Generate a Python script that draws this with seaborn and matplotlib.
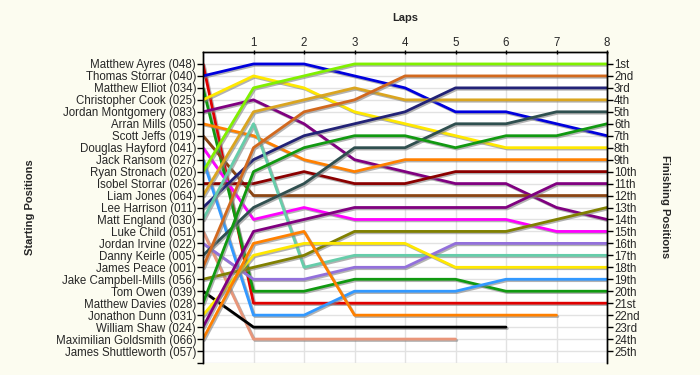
#!/usr/bin/env python3
"""Lap chart: starting positions vs finishing positions over 8 laps."""

import pandas as pd
import matplotlib
matplotlib.use("Agg")
import matplotlib.pyplot as plt
import matplotlib.patheffects as pe
import seaborn as sns

# --- data ---
drivers = [
    "Matthew Ayres (048)", "Thomas Storrar (040)", "Matthew Elliot (034)",
    "Christopher Cook (025)", "Jordan Montgomery (083)", "Arran Mills (050)",
    "Scott Jeffs (019)", "Douglas Hayford (041)", "Jack Ransom (027)",
    "Ryan Stronach (020)", "Isobel Storrar (026)", "Liam Jones (064)",
    "Lee Harrison (011)", "Matt England (030)", "Luke Child (051)",
    "Jordan Irvine (022)", "Danny Keirle (005)", "James Peace (001)",
    "Jake Campbell-Mills (056)", "Tom Owen (039)", "Matthew Davies (028)",
    "Jonathon Dunn (031)", "William Shaw (024)", "Maximilian Goldsmith (066)",
    "James Shuttleworth (057)",
]

# position at lap 0 (start) .. lap 8; shorter lists = retired
positions = [
    [1, 21, 21, 21, 21, 21, 21, 21, 21],
    [2, 1, 1, 2, 3, 5, 5, 6, 7],
    [3, 20, 20, 19, 19, 19, 20, 20, 20],
    [4, 2, 3, 5, 6, 7, 8, 8, 8],
    [5, 4, 6, 9, 10, 11, 11, 13, 14],
    [6, 7, 9, 10, 9, 9, 9, 9, 9],
    [7, 12, 12, 12, 12, 12, 12, 12, 12],
    [8, 14, 13, 14, 14, 14, 14, 15, 15],
    [9, 22, 22, 20, 20, 20, 19, 19, 19],
    [10, 3, 2, 1, 1, 1, 1, 1, 1],
    [11, 11, 10, 11, 11, 10, 10, 10, 10],
    [12, 5, 4, 3, 4, 4, 4, 4, 4],
    [13, 9, 7, 6, 5, 3, 3, 3, 3],
    [14, 6, 18, 17, 17, 17, 17, 17, 17],
    [15, 24, 24, 24, 24, 24],
    [16, 19, 19, 18, 18, 16, 16, 16, 16],
    [17, 13, 11, 8, 8, 6, 6, 5, 5],
    [18, 8, 5, 4, 2, 2, 2, 2, 2],
    [19, 18, 17, 15, 15, 15, 15, 14, 13],
    [20, 23, 23, 23, 23, 23, 23],
    [21, 10, 8, 7, 7, 8, 7, 7, 6],
    [22, 17, 16, 16, 16, 18, 18, 18, 18],
    [23, 15, 14, 13, 13, 13, 13, 11, 11],
    [24, 16, 15, 22, 22, 22, 22, 22],
    [],
]

colors = [
    "#E00000", "#0000DD", "#119911", "#FFE800", "#800080", "#FF8000",
    "#8B4513", "#FF00FF", "#3399FF", "#80F000", "#8B0000", "#DAA520",
    "#222277", "#66CDAA", "#E9967A", "#9370DB", "#2F4F4F", "#D2691E",
    "#808000", "#000000", "#119911", "#FFE800", "#800080", "#FF8000",
    "#999999",
]

laps = list(range(1, 9))
finish_labels = ["1st", "2nd", "3rd"] + [f"{n}th" for n in range(4, 21)] + \
    ["21st", "22nd", "23rd", "24th", "25th"]

# long-form table for seaborn
rows = []
for name, pos in zip(drivers, positions):
    for lap, p in enumerate(pos):
        rows.append({"driver": name, "lap": lap, "pos": p})
df = pd.DataFrame(rows)
palette = dict(zip(drivers, colors))

# --- style ---
bg = "#FCFCF0"
sns.set_theme(style="white")
plt.rcParams["font.family"] = ["Liberation Sans", "DejaVu Sans"]
fs = 8.3

fig = plt.figure(figsize=(7, 3.75), dpi=100, facecolor=bg)
ax = fig.add_axes([203 / 700, 1 - 363 / 375, 404 / 700, 311 / 375])
ax.set_facecolor("white")

sns.lineplot(data=df, x="lap", y="pos", hue="driver", palette=palette,
             units="driver", estimator=None, sort=False, legend=False,
             linewidth=2, ax=ax)

for line in ax.lines:
    line.set_path_effects([pe.SimpleLineShadow(offset=(1, -1), shadow_color="gray", alpha=0.6),
                           pe.Normal()])

ax.set_xlim(0, 8)
ax.set_ylim(26, 0)

# grid
ax.set_xticks(laps)
ax.set_yticks(list(range(1, 27)))
ax.grid(True, color="#E2E2E2", linewidth=1)
ax.set_axisbelow(True)

# left axis: starting positions
ax.set_yticklabels(drivers + [""], fontsize=fs)
ax.tick_params(axis="y", left=True, length=4, width=1, color="black", pad=1)

# top axis: laps
ax.xaxis.tick_top()
ax.xaxis.set_label_position("top")
ax.set_xticklabels([str(l) for l in laps], fontsize=fs)
ax.tick_params(axis="x", top=True, bottom=False, length=3, width=1,
               color="black", pad=1, direction="inout")
ax.set_xlabel("Laps", fontsize=8, fontweight="bold", labelpad=11)
ax.set_ylabel("")

# right axis: finishing positions
ax2 = ax.twinx()
ax2.set_ylim(26, 0)
ax2.set_yticks(list(range(1, 26)))
ax2.set_yticklabels(finish_labels, fontsize=fs)
ax2.tick_params(axis="y", right=True, length=4, width=1, color="black", pad=1)
ax2.grid(False)

for a in (ax, ax2):
    for side in ("top", "left", "right"):
        a.spines[side].set_visible(True)
        a.spines[side].set_color("black")
        a.spines[side].set_linewidth(1)
    a.spines["bottom"].set_visible(False)

fig.text(30 / 700, 1 - 207 / 375, "Starting Positions", rotation=90,
         ha="center", va="center", fontsize=8, fontweight="bold")
fig.text(665 / 700, 1 - 207 / 375, "Finishing Positions", rotation=270,
         ha="center", va="center", fontsize=8, fontweight="bold")

fig.savefig("out.png", dpi=100, facecolor=bg)
